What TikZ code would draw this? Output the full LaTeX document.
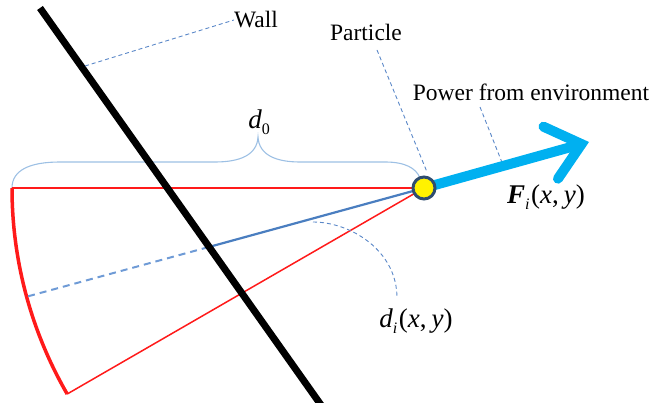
\documentclass[tikz,border=0pt]{standalone}
\usepackage{fontspec}
\setmainfont{Liberation Serif}
\usetikzlibrary{arrows.meta}
\definecolor{redl}{HTML}{FF1A1A}
\definecolor{bluel}{HTML}{4A7EC0}
\definecolor{bluedash}{HTML}{6F9BD6}
\definecolor{lead}{HTML}{5B88C8}
\definecolor{bracec}{HTML}{9DC0E4}
\definecolor{arrowc}{HTML}{00B0F0}
\definecolor{pborder}{HTML}{2F4D70}
\newcommand\mysub[1]{\raisebox{-0.45ex}{\fontsize{16}{16}\selectfont #1}}
\tikzset{
  lbl/.style={font=\fontsize{23.5}{27}\selectfont, inner sep=0pt},
  mlbl/.style={font=\fontsize{27}{30}\selectfont, inner sep=0pt},
  leader/.style={draw=lead, line width=0.9pt, dash pattern=on 4pt off 3pt},
  redline/.style={draw=redl, line width=1.5pt},
}
\begin{document}
\begin{tikzpicture}[x=1pt,y=-1pt]
\useasboundingbox (0,0) rectangle (655,403);
% coordinates
\coordinate (P) at (424,188);
\coordinate (A) at (12,188);
\coordinate (B) at (67.2,394);
\coordinate (C) at (26.6,296.7);
\coordinate (D) at (208.5,247.1);
\coordinate (W1) at (40,8);
\coordinate (W2) at (321,405);
\coordinate (T) at (589,142);
% brace
\draw[bracec, line width=1.1pt] (A) .. controls (12,170) and (30,162) .. (60,162) -- (215,162)
  .. controls (240,162) and (257,155) .. (258,137)
  .. controls (259,155) and (276,162) .. (300,162) -- (385,162)
  .. controls (405,162) and (416,168) .. (420,178);
% red wedge
\draw[redline] (A) -- (P);
\draw[redline] (B) -- (P);
\draw[draw=redl, line width=3.5pt] (A) arc[start angle=180, end angle=210, radius=412pt];
% blue line
\draw[bluel, line width=2.2pt] (P) -- (D);
\draw[bluedash, line width=2pt, dash pattern=on 7pt off 5pt] (D) -- (C);
% wall
\draw[black, line width=7pt] (W1) -- (W2);
% labels
\node[lbl] (wall) at (256,20) {Wall};
\node[lbl] (part) at (366,32) {Particle};
\node[lbl] (pow) at (531,92) {Power from environment};
\node[mlbl] (d0) at (259,122) {{\itshape d}\mysub{0}};
\node[mlbl] (di) at (416,321) {{\itshape d}\mysub{\itshape i}\kern1.5pt(\textit{x},\kern5pt\textit{y})};
\node[mlbl] (Fi) at (546,197) {{\bfseries\itshape F}\mysub{\itshape i}\kern1.5pt(\textit{x},\kern5pt\textit{y})};
% leaders
\coordinate (wl) at (85,66);
\draw[leader] (wl) -- (wall.west);
\coordinate (pl1) at (377,50);
\coordinate (pl2) at (427,172);
\draw[leader] (pl1) -- (pl2);
\coordinate (el1) at (480,107);
\coordinate (el2) at (505,170);
\draw[leader] (el1) -- (el2);
\coordinate (dl1) at (313,222);
\coordinate (dl2) at (397,298);
\draw[leader] (dl1) .. controls (350,222) and (397,250) .. (dl2);
% arrow
\draw[arrowc, line width=10pt, -{Straight Barb[length=32pt, width=54pt, line cap=round]}] (P) -- (T);
% particle
\node[circle, draw=pborder, fill=yellow, line width=3pt, minimum size=22pt, inner sep=0pt] (part0) at (P) {};
\end{tikzpicture}
\end{document}
